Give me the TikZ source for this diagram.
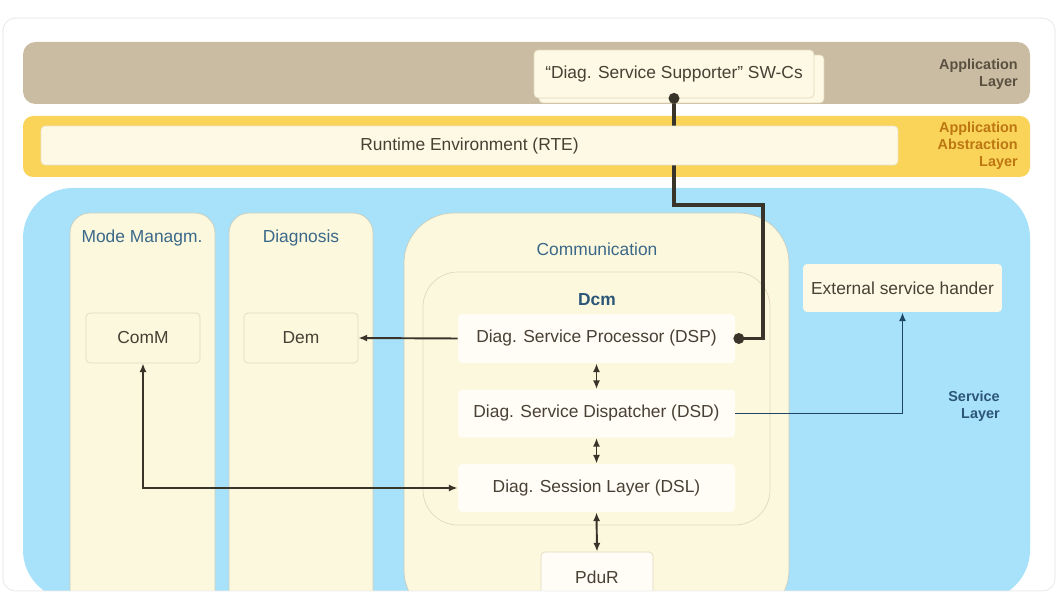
\documentclass[tikz,border=0pt]{standalone}
\usepackage{fontspec}
\setmainfont{Liberation Sans}
\usetikzlibrary{arrows.meta}
\pgfdeclarelayer{back}
\pgfdeclarelayer{wire}
\pgfsetlayers{back,wire,main}
\definecolor{tanband}{RGB}{201,188,162}
\definecolor{yelband}{RGB}{250,212,88}
\definecolor{skyband}{RGB}{168,226,250}
\definecolor{cream}{RGB}{253,249,228}
\definecolor{colfill}{RGB}{252,248,222}
\definecolor{colline}{RGB}{200,205,190}
\definecolor{boxfill}{RGB}{255,253,246}
\definecolor{boxline}{RGB}{226,216,188}
\definecolor{txt}{RGB}{72,64,52}
\definecolor{ttl}{RGB}{58,104,136}
\definecolor{applbl}{RGB}{90,80,64}
\definecolor{abslbl}{RGB}{188,118,18}
\definecolor{svclbl}{RGB}{44,86,120}
\definecolor{wire}{RGB}{56,52,42}
\definecolor{bluewire}{RGB}{30,70,100}
\begin{document}
\begin{tikzpicture}[x=0.02cm, y=-0.02cm, font=\fontsize{9.9}{11.9}\selectfont,
% common options for blocks:
block/.style = {rectangle, draw=boxline, fill=boxfill, text=txt, align=center,
            rounded corners=0.08cm, inner sep=0},
% common options for the column titles:
title/.style = {text=ttl, inner sep=0},
% common options for the layer names:
layername/.style = {font=\fontsize{8.2}{9.6}\selectfont\bfseries, align=right,
            anchor=east, inner sep=0},
link/.style = {draw=wire, line width=1.1pt, >={Latex[length=5pt,width=4pt]}},
bus/.style = {draw=wire, line width=2pt},
dot/.style = {circle, fill=wire, inner sep=0, minimum size=0.22cm}]
\useasboundingbox (0,0) rectangle (1063,598);
% card and layer bands
\begin{pgfonlayer}{back}
\filldraw[draw=gray!15, fill=white, rounded corners=0.25cm] (3,18) rectangle (1055,591);
\fill[tanband, rounded corners=0.25cm] (23,42) rectangle (1030,104);
\fill[yelband, rounded corners=0.2cm] (23,116) rectangle (1030,177);
\fill[skyband, rounded corners=1cm] (23,188) rectangle (1030,600);
\filldraw[draw=colline, fill=colfill, rounded corners=0.4cm] (70,213) rectangle (215,620);
\filldraw[draw=colline, fill=colfill, rounded corners=0.4cm] (229,213) rectangle (373,620);
\filldraw[draw=colline, fill=colfill, rounded corners=1cm] (404,213) rectangle (789,620);
\draw[draw=boxline, rounded corners=0.7cm] (423,272) rectangle (770,525);
\end{pgfonlayer}
% application layer
\node[block, fill=cream, minimum width=5.7cm, minimum height=0.96cm] (swcB) at (681.5,79) {};
\node[block, fill=cream, minimum width=5.6cm, minimum height=0.96cm] (swc) at (674,74) {“Diag. Service Supporter” SW-Cs};
\node[layername, text=applbl] (appL) at (1018,74.5) {Application\\Layer};
% abstraction layer
\node[block, fill=cream, draw=boxline!70, minimum width=17.14cm, minimum height=0.78cm] (rte) at (469.5,145.5) {Runtime Environment (RTE)};
\node[layername, text=abslbl] (absL) at (1018,146) {Application\\Abstraction\\Layer};
% service layer
\node[title] (modeT) at (142,238) {Mode Managm.};
\node[title] (diagT) at (301,238) {Diagnosis};
\node[title] (commT) at (597,249) {Communication};
\node[title, text=svclbl, font=\fontsize{9.9}{11.9}\selectfont\bfseries] (dcmT) at (597,300) {Dcm};
\node[block, fill=colfill, minimum width=2.28cm, minimum height=1cm] (ComM) at (143,338) {ComM};
\node[block, fill=colfill, minimum width=2.28cm, minimum height=1cm] (Dem) at (301,338) {Dem};
\node[block, draw=none, minimum width=5.54cm, minimum height=0.98cm] (DSP) at (596.5,338.5) {Diag. Service Processor (DSP)};
\node[block, draw=none, minimum width=5.54cm, minimum height=0.96cm] (DSD) at (596.5,413.5) {Diag. Service Dispatcher (DSD)};
\node[block, draw=none, minimum width=5.54cm, minimum height=0.96cm] (DSL) at (596.5,488) {Diag. Session Layer (DSL)};
\node[block, minimum width=2.24cm, minimum height=1cm] (PduR) at (597,577) {PduR};
\node[block, fill=cream, draw=none, minimum width=3.98cm, minimum height=0.96cm] (ext) at (902.5,288) {External service hander};
\node[layername, text=svclbl] (svcL) at (1000,406) {Service\\Layer};
% connectors
\coordinate (bend) at (763,205);
\begin{pgfonlayer}{wire}
\draw[bus] (swc.south) |- (bend) |- (DSP.east);
\end{pgfonlayer}
\node[dot] (dotA) at (swc.south) {};
\node[dot] (dotB) at ([xshift=2]DSP.east) {};
\draw[link, ->] (DSP.west) -- (Dem.east);
\draw[link, <->] (ComM.south) |- (DSL.west);
\draw[link, draw=bluewire, ->] (DSD.east) -| (ext.south);
\draw[link, <->] (DSP.south) -- (DSD.north);
\draw[link, <->] (DSD.south) -- (DSL.north);
\draw[link, <->] (DSL.south) -- (PduR.north);
% cut the bottom edge
\fill[white] (0,591) rectangle (1063,620);
\draw[gray!15, rounded corners=0.25cm] (3,18) rectangle (1055,591);
\end{tikzpicture}
\end{document}
